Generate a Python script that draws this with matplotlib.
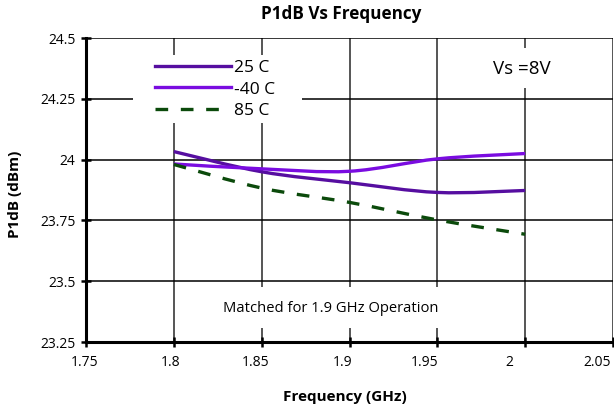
import numpy as np
import matplotlib
matplotlib.use("Agg")
import matplotlib.pyplot as plt
from matplotlib.path import Path
from matplotlib.patches import PathPatch, Rectangle
from matplotlib.lines import Line2D
from matplotlib.transforms import ScaledTranslation

plt.rcParams['font.family'] = ['Open Sans', 'DejaVu Sans']

freq = [1.80, 1.85, 1.90, 1.95, 2.00]
p_25 = [24.033, 23.950, 23.905, 23.865, 23.873]
p_m40 = [23.982, 23.962, 23.952, 24.003, 24.025]
p_85 = [23.980, 23.883, 23.824, 23.752, 23.693]
labels = ["25 C", "-40 C", "85 C"]
xticks = [1.75, 1.8, 1.85, 1.9, 1.95, 2.0, 2.05]
xticklabels = ["1.75", "1.8", "1.85", "1.9", "1.95", "2", "2.05"]
yticks = [23.25, 23.5, 23.75, 24.0, 24.25, 24.5]
yticklabels = ["23.25", "23.5", "23.75", "24", "24.25", "24.5"]

colors = ["#560ea0", "#7a0ce0", "#0b4a0b"]
styles = ["-", "-", (0, (3.8, 3.8))]
# horizontal pixel shift of each x tick label (as rendered in reference)
xlabel_shift = [-1, -3, -6, -7, -13, -16, -16]


def smooth_path(x, y):
    x = np.asarray(x, float)
    y = np.asarray(y, float)
    pts = np.column_stack([x, y])
    n = len(pts)
    verts = [pts[0]]
    codes = [Path.MOVETO]
    for i in range(n - 1):
        p0 = pts[i - 1] if i > 0 else pts[i]
        p1 = pts[i]
        p2 = pts[i + 1]
        p3 = pts[i + 2] if i + 2 < n else pts[i + 1]
        c1 = p1 + (p2 - p0) / 6.0
        c2 = p2 - (p3 - p1) / 6.0
        verts += [c1, c2, p2]
        codes += [Path.CURVE4] * 3
    return Path(verts, codes)


W, H = 614, 408
fig = plt.figure(figsize=(W / 100, H / 100), dpi=100)
ax = fig.add_axes([86 / W, 1 - 342 / H, (613 - 86) / W, (342 - 38) / H])

ax.set_xlim(1.75, 2.05)
ax.set_ylim(23.25, 24.5)
ax.set_xticks(xticks)
ax.set_xticklabels(xticklabels)
ax.set_yticks(yticks)
ax.set_yticklabels(yticklabels)

for s in ["top", "right"]:
    ax.spines[s].set_visible(False)
for s in ["left", "bottom"]:
    ax.spines[s].set_linewidth(2.2)
    ax.spines[s].set_color("black")

ax.tick_params(axis="both", direction="inout", length=7, width=1.8,
               labelsize=10, colors="black", pad=4)
ax.tick_params(axis="x", pad=6)
for lbl, dx in zip(ax.get_xticklabels(), xlabel_shift):
    lbl.set_transform(lbl.get_transform() + ScaledTranslation(dx / 100, 0, fig.dpi_scale_trans))

ax.set_axisbelow(True)
for xv in xticks[1:]:
    ax.axvline(xv, color="#555555", lw=1.4, zorder=0.5)
for yv in yticks[1:]:
    ax.axhline(yv, color="black", lw=1.1, zorder=0.5)

series = [p_25, p_m40, p_85]
handles = []
for vals, c, ls, lab in zip(series, colors, styles, labels):
    patch = PathPatch(smooth_path(freq, vals), facecolor="none", edgecolor=c,
                      lw=2.4, linestyle=ls, zorder=4, capstyle="butt")
    ax.add_patch(patch)
    handles.append(Line2D([], [], color=c, lw=2.4, linestyle=ls, label=lab))

# white boxes behind annotations
ax.add_patch(Rectangle((133 / W, 1 - 123 / H), (302 - 133) / W, (123 - 55) / H,
                       transform=fig.transFigure, facecolor="white",
                       edgecolor="none", zorder=2))
ax.add_patch(Rectangle((470 / W, 1 - 88 / H), (578 - 470) / W, (88 - 48) / H,
                       transform=fig.transFigure, facecolor="white",
                       edgecolor="none", zorder=2))
ax.add_patch(Rectangle((215 / W, 1 - 328 / H), (448 - 215) / W, (328 - 287) / H,
                       transform=fig.transFigure, facecolor="white",
                       edgecolor="none", zorder=2))

leg = ax.legend(handles=handles, loc="upper left",
                bbox_to_anchor=(155 / W, 1 - 60 / H), bbox_transform=fig.transFigure,
                frameon=False, fontsize=12.5, handlelength=4.4, handletextpad=0.15,
                labelspacing=0.3, borderpad=0, borderaxespad=0)
leg.set_zorder(5)

fig.text(522 / W, 1 - 69 / H, "Vs =8V", fontsize=13.5, ha="center", va="center")
fig.text(331 / W, 1 - 308 / H, "Matched for 1.9 GHz Operation", fontsize=10.6,
         ha="center", va="center")
fig.text(341 / W, 1 - 14 / H, "P1dB Vs Frequency", fontsize=12.3, fontweight="bold",
         ha="center", va="center")
fig.text(345 / W, 1 - 397 / H, "Frequency (GHz)", fontsize=11, fontweight="bold",
         ha="center", va="center")
fig.text(15 / W, 1 - 194 / H, "P1dB (dBm)", fontsize=11, fontweight="bold",
         ha="center", va="center", rotation=90)

fig.savefig("out.png", dpi=100)
